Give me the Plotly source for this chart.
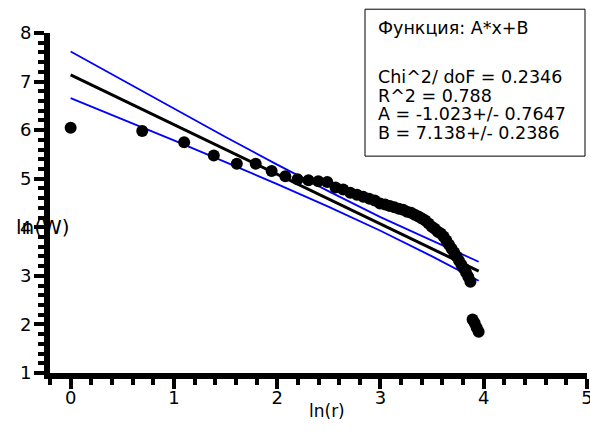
import plotly.graph_objects as go

# data: x = ln(r), y = ln(W)
ln_r = [0.000, 0.693, 1.099, 1.386, 1.609, 1.792, 1.946, 2.079, 2.197, 2.303,
        2.398, 2.485, 2.565, 2.639, 2.708, 2.773, 2.833, 2.890, 2.944, 2.996,
        3.045, 3.091, 3.135, 3.178, 3.219, 3.258, 3.296, 3.332, 3.367, 3.401,
        3.434, 3.466, 3.497, 3.526, 3.555, 3.584, 3.611, 3.638, 3.664, 3.689,
        3.714, 3.738, 3.761, 3.784, 3.807, 3.829, 3.850, 3.871, 3.892, 3.912,
        3.932, 3.951]
ln_W = [6.05, 5.98, 5.75, 5.48, 5.31, 5.31, 5.16, 5.05, 4.99, 4.97,
        4.95, 4.93, 4.82, 4.78, 4.71, 4.67, 4.63, 4.59, 4.55, 4.49,
        4.47, 4.44, 4.41, 4.38, 4.36, 4.32, 4.30, 4.26, 4.22, 4.18,
        4.14, 4.08, 4.01, 3.97, 3.91, 3.87, 3.81, 3.73, 3.64, 3.56,
        3.48, 3.40, 3.31, 3.23, 3.15, 3.07, 2.98, 2.88, 2.10, 2.03,
        1.93, 1.85]

fit_x = [0.0, 3.951]
fit_y = [7.138, 3.096]

band_x = [0.0, 0.5, 1.0, 1.5, 2.0, 2.5, 3.0, 3.5, 3.951]
band_upper = [7.62, 7.03, 6.45, 5.86, 5.29, 4.74, 4.21, 3.72, 3.29]
band_lower = [6.66, 6.23, 5.79, 5.34, 4.89, 4.42, 3.93, 3.40, 2.90]

box_lines = ["Функция: A*x+B", "Chi^2/ doF = 0.2346", "R^2 = 0.788",
             "A = -1.023+/- 0.7647", "B = 7.138+/- 0.2386"]

FONT = "DejaVu Sans"

fig = go.Figure()
fig.add_trace(go.Scatter(x=band_x, y=band_upper, mode="lines",
                         line=dict(color="#0000ff", width=1.8), showlegend=False))
fig.add_trace(go.Scatter(x=band_x, y=band_lower, mode="lines",
                         line=dict(color="#0000ff", width=1.8), showlegend=False))
fig.add_trace(go.Scatter(x=fit_x, y=fit_y, mode="lines",
                         line=dict(color="black", width=3), showlegend=False))
fig.add_trace(go.Scatter(x=ln_r, y=ln_W, mode="markers",
                         marker=dict(color="black", size=12), showlegend=False))

fig.layout.width = 590
fig.layout.height = 434
fig.layout.margin = dict(l=50, r=3, t=33, b=61, autoexpand=False)
fig.layout.paper_bgcolor = "white"
fig.layout.plot_bgcolor = "white"
fig.layout.font = dict(family=FONT, color="black")


def axis(rng, standoff):
    return dict(
        range=rng, dtick=1, tick0=0, tickmode="linear",
        showgrid=False, zeroline=False, automargin=False,
        showline=True, linecolor="black", linewidth=6,
        ticks="outside", ticklen=10, tickwidth=4, tickcolor="black",
        tickfont=dict(family=FONT, size=18, color="black"),
        ticklabeloverflow="allow", ticklabelstandoff=standoff,
        minor=dict(ticks="outside", ticklen=6, tickwidth=3.5, dtick=0.2, tick0=0,
                   tickcolor="black", showgrid=False),
    )


fig.layout.xaxis = axis([-0.2, 5], -7)
fig.layout.yaxis = axis([1, 8], -1)

# axis titles (horizontal, as in the reference)
fig.add_annotation(text="ln(r)", xref="paper", yref="paper",
                   x=(327 - 50) / 537, y=(373.5 - 412) / 340.2,
                   xanchor="center", yanchor="middle", showarrow=False,
                   font=dict(family=FONT, size=17, color="black"))
fig.add_annotation(text="ln(W)", xref="paper", yref="y", x=(14 - 50) / 537, y=4,
                   xanchor="left", yanchor="middle", showarrow=False,
                   font=dict(family=FONT, size=20, color="black"))

# fit info box
fig.add_shape(type="rect", xref="paper", yref="paper",
              x0=(365 - 50) / 537, x1=(585 - 50) / 537,
              y0=(373.5 - 156.5) / 340.2, y1=(373.5 - 9.5) / 340.2,
              line=dict(color="black", width=1), fillcolor="white", layer="above")
line_y_px = [28.3, 77.3, 96.7, 114.6, 133.0]
for txt, ypx in zip(box_lines, line_y_px):
    fig.add_annotation(text=txt, xref="paper", yref="paper",
                       x=(376 - 50) / 537, y=(373.5 - ypx) / 340.2,
                       xanchor="left", yanchor="middle", showarrow=False,
                       font=dict(family=FONT, size=17.5, color="black"))

fig.write_html("out.html")
